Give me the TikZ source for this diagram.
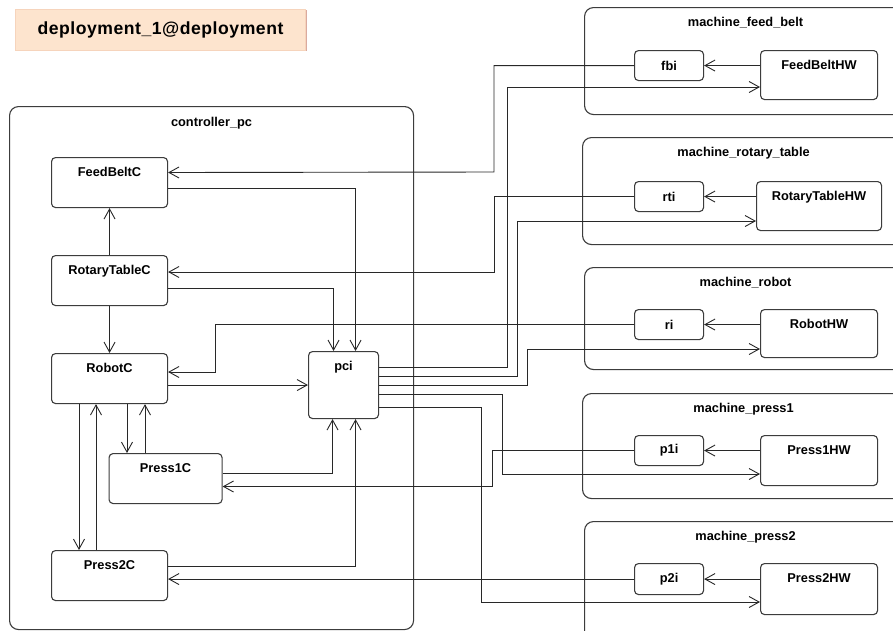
\documentclass[tikz,border=0pt]{standalone}
\usepackage{fontspec}
\setmainfont{Liberation Sans}
\newfontfamily\titlefont[LetterSpace=3]{Liberation Sans}
\usetikzlibrary{arrows.meta,calc}

\definecolor{edge}{RGB}{40,40,40}
\definecolor{boxline}{RGB}{60,60,60}
\definecolor{peach}{RGB}{253,228,206}
\definecolor{peachline}{RGB}{246,212,188}
\definecolor{peachshade}{RGB}{218,170,158}

\tikzset{
  every node/.style={font=\fontsize{12.8}{15}\selectfont\bfseries, inner sep=0pt},
  container/.style={draw=boxline, line width=1.1pt, rounded corners=9pt, anchor=north west},
  comp/.style={draw=boxline, line width=1.1pt, fill=white, rounded corners=4pt, anchor=north west},
  iface/.style={comp, minimum width=69pt, minimum height=30pt},
  toptext/.style={anchor=north, yshift=#1},
  conn/.style={draw=edge, line width=0.9pt, -{Straight Barb[length=10pt,width=11pt,line width=0.9pt]}},
}

\begin{document}
\begin{tikzpicture}[x=1pt, y=-1pt]
\clip (0,0) rectangle (893,630);
\fill[white] (0,0) rectangle (893,630);

% diagram title
\fill[peachshade] (17,10) rectangle (307,51);
\node[draw=peachline, line width=0.9pt, fill=peach, anchor=north west,
      minimum width=290pt, minimum height=41pt,
      font=\titlefont\fontsize{17.6}{20}\selectfont\bfseries] (title) at (15,8.5) {deployment\_1@deployment};

% execution environments
\node[container, minimum width=404pt, minimum height=523pt,
      label={[toptext=-11pt]north:controller\_pc}] (ctrl) at (9,106) {};
\node[container, minimum width=322pt, minimum height=107pt,
      label={[toptext=-10pt]north:machine\_feed\_belt}] (mfb) at (584,7) {};
\node[container, minimum width=322pt, minimum height=107pt,
      label={[toptext=-10pt]north:machine\_rotary\_table}] (mrt) at (582,137) {};
\node[container, minimum width=322pt, minimum height=102pt,
      label={[toptext=-10pt]north:machine\_robot}] (mrob) at (584,267) {};
\node[container, minimum width=322pt, minimum height=105pt,
      label={[toptext=-10pt]north:machine\_press1}] (mp1) at (582,393) {};
\node[container, minimum width=322pt, minimum height=130pt,
      label={[toptext=-10pt]north:machine\_press2}] (mp2) at (584,521) {};

% controller components
\node[comp, minimum width=116pt, minimum height=50pt,
      label={[toptext=-10.5pt]north:FeedBeltC}] (feedC) at (51,157) {};
\node[comp, minimum width=116pt, minimum height=50pt,
      label={[toptext=-10.5pt]north:RotaryTableC}] (rotC) at (51,255) {};
\node[comp, minimum width=116pt, minimum height=50pt,
      label={[toptext=-10.5pt]north:RobotC}] (robC) at (51,353) {};
\node[comp, minimum width=113pt, minimum height=50pt,
      label={[toptext=-10.5pt]north:Press1C}] (p1C) at (108.5,453) {};
\node[comp, minimum width=116pt, minimum height=50pt,
      label={[toptext=-10.5pt]north:Press2C}] (p2C) at (51,550) {};
\node[comp, minimum width=70pt, minimum height=67pt,
      label={[toptext=-10.5pt]north:pci}] (pci) at (308,351) {};

% machine components
\node[iface] (fbi) at (634,50) {fbi};
\node[comp, minimum width=117pt, minimum height=49pt,
      label={[toptext=-10.5pt]north:FeedBeltHW}] (fbHW) at (760,50) {};
\node[iface] (rti) at (634,181) {rti};
\node[comp, minimum width=125pt, minimum height=49pt,
      label={[toptext=-10.5pt]north:RotaryTableHW}] (rtHW) at (756,181) {};
\node[iface] (ri) at (634,309) {ri};
\node[comp, minimum width=117pt, minimum height=48pt,
      label={[toptext=-10.5pt]north:RobotHW}] (robHW) at (760,309) {};
\node[iface] (p1i) at (634,435) {p1i};
\node[comp, minimum width=117pt, minimum height=50pt,
      label={[toptext=-10.5pt]north:Press1HW}] (p1HW) at (760,435) {};
\node[iface, minimum height=31pt] (p2i) at (634,563) {p2i};
\node[comp, minimum width=117pt, minimum height=51pt,
      label={[toptext=-10.5pt]north:Press2HW}] (p2HW) at (760,563) {};

% hardware drives its interface
\draw[conn] (fbHW.west |- fbi.east) -- (fbi.east);
\draw[conn] (rtHW.west |- rti.east) -- (rti.east);
\draw[conn] (robHW.west |- ri.east) -- (ri.east);
\draw[conn] (p1HW.west |- p1i.east) -- (p1i.east);
\draw[conn] (p2HW.west |- p2i.east) -- (p2i.east);

% interfaces report to the controller components
\draw[conn] (fbi.west) -| (494,172) -- ($(feedC.north east)+(0,15.5)$);
\draw[conn] (rti.west) -| (494,272) -- ($(rotC.north east)+(0,17)$);
\draw[conn] (ri.west) -| (215,372) -- ($(robC.north east)+(0,19)$);
\draw[conn] (p1i.west) -| (492,486.5) -- ($(p1C.north east)+(0,33.5)$);
\draw[conn] (p2i.west) -- (p2i.west -| p2C.east);

% controller internals
\draw[conn] (rotC.north) -- (feedC.south);
\draw[conn] (rotC.south) -- (robC.north);
\draw[conn] ($(feedC.north east)+(0,31)$) -| ($(pci.north)+(12,0)$);
\draw[conn] ($(rotC.north east)+(0,33)$) -| ($(pci.north)+(-10,0)$);
\draw[conn] (robC.east |- pci.west) -- (pci.west);
\draw[conn] ($(robC.south west)+(28,0)$) -- ($(p2C.north west)+(28,0)$);
\draw[conn] ($(p2C.north west)+(45,0)$) -- ($(robC.south west)+(45,0)$);
\draw[conn] ($(robC.south west)+(76,0)$) -- ($(p1C.north west)+(18.5,0)$);
\draw[conn] ($(p1C.north west)+(36.5,0)$) -- ($(robC.south west)+(94,0)$);
\draw[conn] ($(p1C.north east)+(0,20.5)$) -| ($(pci.south)+(-11,0)$);
\draw[conn] ($(p2C.north east)+(0,16.5)$) -| ($(pci.south)+(12,0)$);

% pci commands the hardware
\draw[conn] ($(pci.north east)+(0,16)$) -| (507,87) -- ($(fbHW.north west)+(0,37)$);
\draw[conn] ($(pci.north east)+(0,25)$) -| (517,221) -- ($(rtHW.north west)+(0,40)$);
\draw[conn] ($(pci.north east)+(0,34)$) -| (527,349) -- ($(robHW.north west)+(0,40)$);
\draw[conn] ($(pci.north east)+(0,43)$) -| (502,474) -- ($(p1HW.north west)+(0,39)$);
\draw[conn] ($(pci.north east)+(0,56.5)$) -| (481,602) -- ($(p2HW.north west)+(0,39)$);
\end{tikzpicture}
\end{document}
